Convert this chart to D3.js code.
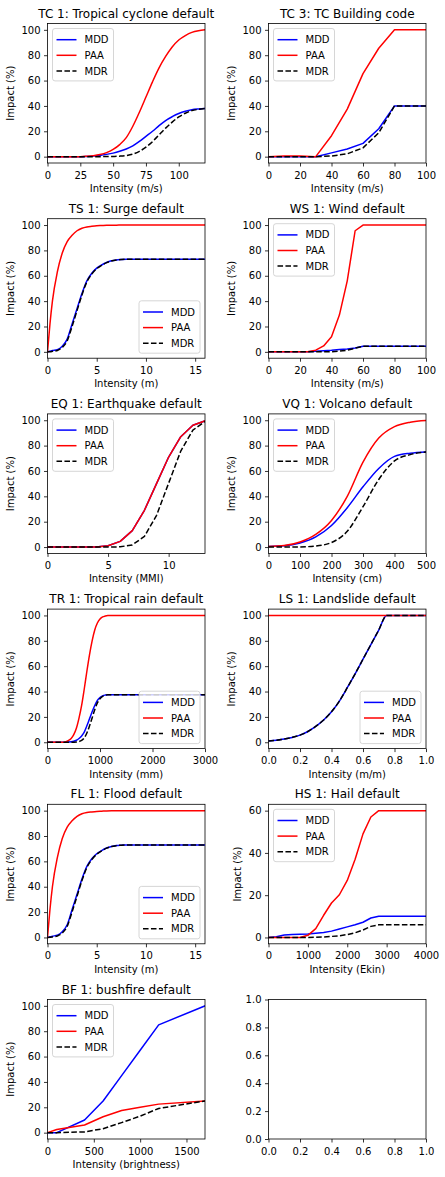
<!DOCTYPE html>
<html>
<head>
<meta charset="utf-8">
<script src="https://cdn.jsdelivr.net/npm/d3@7"></script>
<style>
  html, body { margin: 0; padding: 0; background: #fff; }
  svg { display: block; }
</style>
</head>
<body>
<svg id="chart" width="445" height="1177"></svg>
<script>
// ---------------- DATA ----------------
const SERIES_NAMES = ["MDD", "PAA", "MDR"];
const Y_TICKS = [0, 20, 40, 60, 80, 100];
const HS1_yticks = [0, 20, 40, 60];
const EMPTY_ticks = [0, 0.2, 0.4, 0.6, 0.8, 1.0];

// TC 1
const TC1_x   = [0, 25, 30, 35, 40, 45, 50, 55, 60, 65, 70, 75, 80, 85, 90, 95, 100, 105, 110, 115, 120];
const TC1_mdd = [0, 0, 0.2, 0.5, 1, 1.8, 2.8, 4.2, 6, 8.5, 12, 16, 20, 24.5, 28.5, 31.5, 34, 35.8, 37, 37.6, 38];
const TC1_paa = [0, 0, 0.3, 0.8, 1.7, 3.2, 5.7, 9.5, 15, 24, 35, 47, 59, 70, 79, 86.5, 92, 95.5, 98, 99.3, 100];
const TC1_mdr = [0, 0, 0, 0, 0.02, 0.06, 0.16, 0.4, 0.9, 2.0, 4.2, 7.5, 11.8, 17.2, 22.5, 27.2, 31.3, 34.2, 36.3, 37.3, 38];
const TC1_xticks = [0, 25, 50, 75, 100];

// TC 3
const TC3_x   = [0, 10, 20, 30, 40, 50, 60, 70, 80, 90, 100];
const TC3_mdd = [0, 0, 0, 0, 3, 6, 10.5, 22, 40, 40, 40];
const TC3_paa = [0, 0.5, 0.5, 0, 16.5, 37.5, 65.5, 85.5, 100, 100, 100];
const TC3_mdr = [0, 0, 0, 0, 0.5, 2.25, 6.9, 18.8, 40, 40, 40];
const TC3_xticks = [0, 20, 40, 60, 80, 100];

// TS 1 (surge)
const TS1_x   = [0, 0.25, 0.5, 1, 1.5, 2, 2.5, 3, 3.5, 4, 4.5, 5, 5.5, 6, 6.5, 7, 7.5, 8, 16];
const TS1_mdd = [0, 0.5, 1, 1.8, 4.5, 10, 22, 34, 46, 56, 62, 66, 68.5, 70.5, 71.8, 72.5, 72.8, 73, 73];
const TS1_paa = [0, 22, 40, 63, 78, 87, 92, 95.5, 97.5, 98.5, 99, 99.4, 99.6, 99.8, 99.9, 99.9, 100, 100, 100];
const TS1_mdr = [0, 0.11, 0.4, 1.13, 3.5, 8.7, 20.2, 32.5, 44.9, 55.2, 61.4, 65.6, 68.2, 70.4, 71.7, 72.4, 72.8, 73, 73];
const TS1_xticks = [0, 5, 10, 15];

// WS 1
const WS1_x   = [0, 25, 30, 35, 40, 45, 50, 55, 60, 100];
const WS1_mdd = [0, 0, 0.5, 0.8, 1.2, 1.8, 2.3, 3, 4.4, 4.4];
const WS1_paa = [0, 0, 1.3, 4.7, 12, 29, 56, 95.5, 100, 100];
const WS1_mdr = [0, 0, 0.01, 0.04, 0.14, 0.52, 1.29, 2.87, 4.4, 4.4];
const WS1_xticks = [0, 20, 40, 60, 80, 100];

// EQ 1
const EQ1_x   = [0, 1, 2, 3, 4, 5, 6, 7, 8, 9, 10, 11, 12, 13];
const EQ1_mdd = [0, 0, 0, 0, 0, 1, 4.5, 13, 29, 50, 71, 87, 96, 99.5];
const EQ1_paa = [0, 0, 0, 0, 0, 1, 4.5, 13, 29, 50, 71, 87, 96, 99.5];
const EQ1_mdr = [0, 0, 0, 0, 0, 0.01, 0.2, 1.7, 8.4, 25, 50.4, 75.7, 92.2, 99];
const EQ1_xticks = [0, 5, 10];

// VQ 1
const VQ1_x   = [0, 50, 100, 150, 200, 250, 300, 350, 400, 450, 500];
const VQ1_mdd = [0.5, 1, 3.2, 8, 17, 31, 47.5, 62, 71.5, 74, 75];
const VQ1_paa = [0.5, 1.2, 4, 10, 21, 40, 67, 86, 95, 98.5, 99.8];
const VQ1_mdr = [0, 0.01, 0.13, 0.8, 3.6, 12.4, 31.8, 53.3, 67.9, 72.9, 74.9];
const VQ1_xticks = [0, 100, 200, 300, 400, 500];

// TR 1
const TR1_x   = [0, 300, 350, 400, 450, 500, 550, 600, 650, 700, 750, 800, 850, 900, 950, 1000, 1050, 1100, 1150, 1200, 3000];
const TR1_mdd = [0, 0, 0.1, 0.2, 0.4, 0.8, 1.6, 3, 5, 8, 13, 18.5, 24, 29, 33, 35.3, 36.6, 37.2, 37.5, 37.5, 37.5];
const TR1_paa = [0, 0, 0.5, 1.5, 3, 6, 11, 19, 29, 42, 56, 69, 80, 88.5, 94, 97.2, 98.8, 99.5, 99.9, 100, 100];
const TR1_mdr = [0, 0, 0, 0, 0.01, 0.05, 0.18, 0.57, 1.45, 3.36, 7.28, 12.8, 19.2, 25.7, 31.0, 34.3, 36.2, 37.0, 37.5, 37.5, 37.5];
const TR1_xticks = [0, 1000, 2000, 3000];

// LS 1
const LS1_x   = [0, 0.05, 0.1, 0.15, 0.2, 0.25, 0.3, 0.35, 0.4, 0.45, 0.5, 0.55, 0.6, 0.65, 0.7, 0.75, 1.0];
const LS1_mdd = [1, 1.6, 2.5, 3.8, 5.6, 8.5, 12.5, 17.5, 24, 32.5, 43, 54, 65.5, 77, 88.5, 100, 100];
const LS1_paa = [100, 100, 100, 100, 100, 100, 100, 100, 100, 100, 100, 100, 100, 100, 100, 100, 100];
const LS1_mdr = [1, 1.6, 2.5, 3.8, 5.6, 8.5, 12.5, 17.5, 24, 32.5, 43, 54, 65.5, 77, 88.5, 100, 100];
const LS1_xticks = [0, 0.2, 0.4, 0.6, 0.8, 1.0];

// FL 1
const FL1_x   = [0, 0.25, 0.5, 1, 1.5, 2, 2.5, 3, 3.5, 4, 4.5, 5, 5.5, 6, 6.5, 7, 7.5, 8, 16];
const FL1_mdd = [0, 0.5, 1, 1.8, 4.5, 10, 22, 34, 46, 56, 62, 66, 68.5, 70.5, 71.8, 72.5, 72.8, 73, 73];
const FL1_paa = [0, 22, 40, 63, 78, 87, 92, 95.5, 97.5, 98.5, 99, 99.4, 99.6, 99.8, 99.9, 99.9, 100, 100, 100];
const FL1_mdr = [0, 0.11, 0.4, 1.13, 3.5, 8.7, 20.2, 32.5, 44.9, 55.2, 61.4, 65.6, 68.2, 70.4, 71.7, 72.4, 72.8, 73, 73];
const FL1_xticks = [0, 5, 10, 15];

// HS 1
const HS1_x   = [0, 200, 400, 600, 800, 1000, 1200, 1400, 1600, 1800, 2000, 2200, 2400, 2600, 2800, 4000];
const HS1_mdd = [0, 0.3, 1.2, 1.4, 1.5, 1.6, 2, 2.4, 3, 4, 5, 6, 7.2, 9.2, 10, 10];
const HS1_paa = [0, 0, 0, 0, 0, 1, 4.2, 10.5, 16.3, 20.2, 27, 37, 49, 57, 60, 60];
const HS1_mdr = [0, 0, 0, 0, 0, 0.02, 0.08, 0.25, 0.49, 0.81, 1.35, 2.22, 3.53, 5.24, 6, 6];
const HS1_xticks = [0, 1000, 2000, 3000, 4000];

// BF 1
const BF1_x   = [0, 100, 400, 600, 800, 1000, 1200, 1700];
const BF1_mdd = [0, 0, 10, 25, 45, 65, 85, 100];
const BF1_paa = [0, 2.5, 6, 12.5, 17.5, 20, 22.5, 25];
const BF1_mdr = [0, 0, 0.6, 3.1, 7.9, 13, 19.1, 25];
const BF1_xticks = [0, 500, 1000, 1500];

// ---------------- PANELS ----------------
const panels = [
  {title: "TC 1: Tropical cyclone default", xlabel: "Intensity (m/s)", x: TC1_x, s: [TC1_mdd, TC1_paa, TC1_mdr], xd: [0, 120], xt: TC1_xticks, yd: [-5, 105], yt: Y_TICKS, leg: "ul", smooth: true},
  {title: "TC 3: TC Building code", xlabel: "Intensity (m/s)", x: TC3_x, s: [TC3_mdd, TC3_paa, TC3_mdr], xd: [0, 100], xt: TC3_xticks, yd: [-5, 105], yt: Y_TICKS, leg: "ul", smooth: false},
  {title: "TS 1: Surge default", xlabel: "Intensity (m)", x: TS1_x, s: [TS1_mdd, TS1_paa, TS1_mdr], xd: [0, 16], xt: TS1_xticks, yd: [-5, 105], yt: Y_TICKS, leg: "lr", smooth: true},
  {title: "WS 1: Wind default", xlabel: "Intensity (m/s)", x: WS1_x, s: [WS1_mdd, WS1_paa, WS1_mdr], xd: [0, 100], xt: WS1_xticks, yd: [-5, 105], yt: Y_TICKS, leg: "ul", smooth: false},
  {title: "EQ 1: Earthquake default", xlabel: "Intensity (MMI)", x: EQ1_x, s: [EQ1_mdd, EQ1_paa, EQ1_mdr], xd: [0, 13], xt: EQ1_xticks, yd: [-5, 105], yt: Y_TICKS, leg: "ul", smooth: false},
  {title: "VQ 1: Volcano default", xlabel: "Intensity (cm)", x: VQ1_x, s: [VQ1_mdd, VQ1_paa, VQ1_mdr], xd: [0, 500], xt: VQ1_xticks, yd: [-5, 105], yt: Y_TICKS, leg: "ul", smooth: true},
  {title: "TR 1: Tropical rain default", xlabel: "Intensity (mm)", x: TR1_x, s: [TR1_mdd, TR1_paa, TR1_mdr], xd: [0, 3000], xt: TR1_xticks, yd: [-5, 105], yt: Y_TICKS, leg: "lr", smooth: true},
  {title: "LS 1: Landslide default", xlabel: "Intensity (m/m)", x: LS1_x, s: [LS1_mdd, LS1_paa, LS1_mdr], xd: [0, 1], xt: LS1_xticks, yd: [-5, 105], yt: Y_TICKS, leg: "lr", smooth: true, xfmt: ".1f"},
  {title: "FL 1: Flood default", xlabel: "Intensity (m)", x: FL1_x, s: [FL1_mdd, FL1_paa, FL1_mdr], xd: [0, 16], xt: FL1_xticks, yd: [-5, 105], yt: Y_TICKS, leg: "lr", smooth: true},
  {title: "HS 1: Hail default", xlabel: "Intensity (Ekin)", x: HS1_x, s: [HS1_mdd, HS1_paa, HS1_mdr], xd: [0, 4000], xt: HS1_xticks, yd: [-3, 63], yt: HS1_yticks, leg: "ul", smooth: false, ylabOff: 28},
  {title: "BF 1: bushfire default", xlabel: "Intensity (brightness)", x: BF1_x, s: [BF1_mdd, BF1_paa, BF1_mdr], xd: [0, 1700], xt: BF1_xticks, yd: [-5, 105], yt: Y_TICKS, leg: "ul", smooth: false},
  {empty: true, xd: [0, 1], xt: EMPTY_ticks, yd: [0, 1], yt: EMPTY_ticks, xfmt: ".1f", yfmt: ".1f"}
];

// ---------------- LAYOUT ----------------
const FONT = "DejaVu Sans, sans-serif";
const COL_LEFT = [47.5, 268.5];
const AX_W = 157.5, AX_H = 139.5;
const ROW_TOP0 = 23.5, ROW_STEP = 195.2;
const COLORS = ["#0000ff", "#ff0000", "#000000"];
const DASH = [null, null, "5.55,2.4"];

const svg = d3.select("#chart");
svg.append("rect").attr("width", 445).attr("height", 1177).attr("fill", "#fff");

function styleText(sel, size) {
  return sel.attr("font-family", FONT).attr("font-size", size).attr("fill", "#000");
}

panels.forEach((p, i) => {
  const col = i % 2, row = Math.floor(i / 2);
  const g = svg.append("g").attr("transform", `translate(${COL_LEFT[col]},${ROW_TOP0 + row * ROW_STEP})`);
  const x = d3.scaleLinear().domain(p.xd).range([0, AX_W]);
  const y = d3.scaleLinear().domain(p.yd).range([AX_H, 0]);

  const clipId = "clip" + i;
  g.append("clipPath").attr("id", clipId).append("rect").attr("width", AX_W).attr("height", AX_H);

  if (!p.empty) {
    const line = d3.line().x(d => x(d[0])).y(d => y(d[1])).curve(p.smooth ? d3.curveMonotoneX : d3.curveLinear);
    const lg = g.append("g").attr("clip-path", `url(#${clipId})`);
    p.s.forEach((vals, k) => {
      const pts = p.x.map((xv, j) => [xv, vals[j]]);
      lg.append("path").attr("d", line(pts)).attr("fill", "none")
        .attr("stroke", COLORS[k]).attr("stroke-width", 1.5)
        .attr("stroke-dasharray", DASH[k]).attr("stroke-linecap", DASH[k] ? "butt" : "square")
        .attr("stroke-linejoin", "round");
    });
  }

  const xAxis = d3.axisBottom(x).tickValues(p.xt).tickSize(3.5).tickPadding(5)
    .tickFormat(p.xfmt ? d3.format(p.xfmt) : d3.format("d"));
  const yAxis = d3.axisLeft(y).tickValues(p.yt).tickSize(3.5).tickPadding(3.5)
    .tickFormat(p.yfmt ? d3.format(p.yfmt) : d3.format("d"));
  const gx = g.append("g").attr("transform", `translate(0,${AX_H})`).call(xAxis);
  const gy = g.append("g").call(yAxis);
  [gx, gy].forEach(a => {
    a.attr("font-family", FONT).attr("font-size", 10);
    a.select(".domain").remove();
    a.selectAll("line").attr("stroke", "#000").attr("stroke-width", 0.8);
    styleText(a.selectAll("text"), 10);
  });
  g.append("rect").attr("width", AX_W).attr("height", AX_H).attr("fill", "none")
    .attr("stroke", "#000").attr("stroke-width", 0.8);

  if (p.empty) return;

  styleText(g.append("text").attr("x", AX_W / 2).attr("y", -6).attr("text-anchor", "middle"), 12).text(p.title);
  styleText(g.append("text").attr("x", AX_W / 2).attr("y", AX_H + 29).attr("text-anchor", "middle"), 10).text(p.xlabel);
  styleText(g.append("text").attr("transform", "rotate(-90)").attr("x", -AX_H / 2).attr("y", -(p.ylabOff || 34))
    .attr("text-anchor", "middle"), 10).text("Impact (%)");

  const LW = 61, LH = 52.4, PAD = 5;
  const lx = p.leg === "ul" ? PAD : AX_W - PAD - LW;
  const ly = p.leg === "ul" ? PAD : AX_H - PAD - LH;
  const leg = g.append("g").attr("transform", `translate(${lx},${ly})`);
  leg.append("rect").attr("width", LW).attr("height", LH).attr("rx", 2.5).attr("ry", 2.5)
    .attr("fill", "#fff").attr("fill-opacity", 0.8).attr("stroke", "#cccccc").attr("stroke-width", 0.8);
  SERIES_NAMES.forEach((name, k) => {
    const cy = 11.2 + k * 15.6;
    leg.append("line").attr("x1", 4).attr("x2", 24).attr("y1", cy).attr("y2", cy)
      .attr("stroke", COLORS[k]).attr("stroke-width", 1.5).attr("stroke-dasharray", DASH[k]);
    styleText(leg.append("text").attr("x", 32).attr("y", cy + 3.6), 10).text(name);
  });
});
</script>
</body>
</html>
